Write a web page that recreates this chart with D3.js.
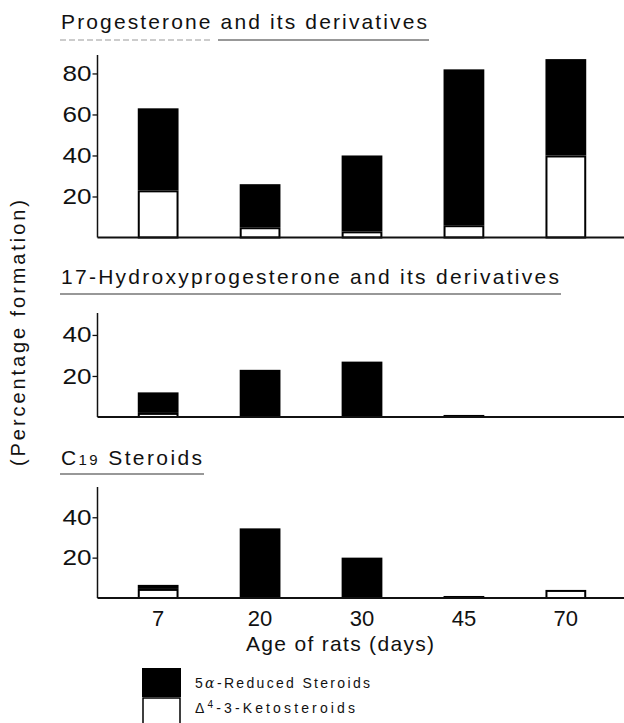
<!DOCTYPE html>
<html>
<head>
<meta charset="utf-8">
<script src="https://cdn.jsdelivr.net/npm/d3@7"></script>
<style>
  html, body { margin: 0; padding: 0; background: #fff; }
  svg { display: block; }
  text { font-family: "Liberation Sans", Arial, sans-serif; fill: #111; }
</style>
</head>
<body>
<svg id="chart" width="624" height="723"></svg>
<script>
// ---- data ----
const ages = ["7", "20", "30", "45", "70"];
const panelTitles = ["Progesterone and its derivatives", "17-Hydroxyprogesterone and its derivatives", "C19 Steroids"];
// 5α-reduced steroids (black part of each bar)
const reducedProg = [40, 21, 37, 76, 47];
const reducedHydroxy = [10, 23, 27, 1, 0];
const reducedC19 = [2, 34.5, 20, 1, 0];
// Δ4-3-ketosteroids (white part of each bar)
const ketoProg = [23, 5, 3, 6, 40];
const ketoHydroxy = [2, 0, 0, 0, 0];
const ketoC19 = [4.5, 0, 0, 0, 4];
const ticksProg = [20, 40, 60, 80];
const ticksSmall = [20, 40];
const legendLabels = ["5α-Reduced Steroids", "Δ4-3-Ketosteroids"];
const xTitle = "Age of rats (days)";
const yTitle = "(Percentage formation)";

// ---- layout ----
const svg = d3.select("#chart");
const axisX = 97.5;
const x = d3.scaleBand().domain(ages).range([97, 627]).paddingInner(0.6).paddingOuter(0.4);

const panels = [
  { title: panelTitles[0], reduced: reducedProg, keto: ketoProg, ticks: ticksProg,
    base: 237.5, top: 55, max: 89, titleY: 29, titleW: 366, underY: 40 },
  { title: panelTitles[1], reduced: reducedHydroxy, keto: ketoHydroxy, ticks: ticksSmall,
    base: 417, top: 313, max: 50.7, titleY: 284, titleW: 498, underY: 294 },
  { title: panelTitles[2], reduced: reducedC19, keto: ketoC19, ticks: ticksSmall,
    base: 598, top: 487, max: 55, titleY: 465, titleW: 141, underY: 474 }
];

panels.forEach((p, pi) => {
  const y = d3.scaleLinear().domain([0, p.max]).range([p.base, p.top]);
  const g = svg.append("g");

  // title
  const t = g.append("text").attr("x", 61).attr("y", p.titleY)
    .attr("font-size", 21).attr("textLength", p.titleW).attr("lengthAdjust", "spacing");
  if (pi === 2) {
    t.append("tspan").text("C");
    t.append("tspan").attr("font-size", 15).text("19");
    t.append("tspan").text(" Steroids");
  } else {
    t.text(p.title);
  }
  if (pi === 0) {
    g.append("line").attr("x1", 60).attr("x2", 212).attr("y1", p.underY).attr("y2", p.underY)
      .attr("stroke", "#999").attr("stroke-width", 1).attr("stroke-dasharray", "6,3");
    g.append("line").attr("x1", 218).attr("x2", 429).attr("y1", p.underY).attr("y2", p.underY)
      .attr("stroke", "#333").attr("stroke-width", 1.2);
  } else {
    g.append("line").attr("x1", 60).attr("x2", 61 + p.titleW + 2).attr("y1", p.underY).attr("y2", p.underY)
      .attr("stroke", "#333").attr("stroke-width", 1.2);
  }

  // y axis
  const ya = g.append("g").attr("transform", `translate(${axisX},0)`)
    .call(d3.axisLeft(y).tickValues(p.ticks).tickSize(5).tickSizeOuter(0).tickPadding(1));
  ya.select(".domain").remove();
  ya.selectAll(".tick line").attr("stroke", "#111").attr("stroke-width", 1.3);
  ya.selectAll(".tick text").attr("font-size", 22).attr("font-family", "Liberation Sans, Arial, sans-serif")
    .attr("fill", "#111").attr("textLength", 29).attr("lengthAdjust", "spacingAndGlyphs");
  g.append("line").attr("x1", axisX).attr("x2", axisX).attr("y1", p.top).attr("y2", p.base)
    .attr("stroke", "#111").attr("stroke-width", 1.5);

  // bars
  const stackData = ages.map((a, i) => ({ age: a, keto: p.keto[i], reduced: p.reduced[i] }));
  const series = d3.stack().keys(["keto", "reduced"])(stackData);
  const bw = x.bandwidth();
  // black (reduced) parts
  g.append("g").selectAll("rect").data(series[1].filter(d => d[1] - d[0] > 0)).join("rect")
    .attr("x", d => x(d.data.age)).attr("width", bw)
    .attr("y", d => y(d[1])).attr("height", d => y(d[0]) - y(d[1]))
    .attr("fill", "#000");
  // white (keto) parts
  g.append("g").selectAll("rect").data(series[0].filter(d => d[1] - d[0] > 0)).join("rect")
    .attr("x", d => x(d.data.age) + 1).attr("width", bw - 2)
    .attr("y", d => y(d[1]) + 1).attr("height", d => Math.max(0, y(d[0]) - y(d[1]) - 1))
    .attr("fill", "#fff").attr("stroke", "#000").attr("stroke-width", 2);

  // x axis line
  g.append("line").attr("x1", axisX).attr("x2", 624).attr("y1", p.base).attr("y2", p.base)
    .attr("stroke", "#111").attr("stroke-width", 1.8);

  if (pi === 2) {
    const xa = g.append("g").attr("transform", `translate(0,${p.base})`)
      .call(d3.axisBottom(x).tickSize(0).tickPadding(12));
    xa.select(".domain").remove();
    xa.selectAll(".tick text").attr("font-size", 22).attr("font-family", "Liberation Sans, Arial, sans-serif")
      .attr("fill", "#111");
  }
});

// x title
svg.append("text").attr("x", 340).attr("y", 651).attr("text-anchor", "middle")
  .attr("font-size", 21).attr("textLength", 188).attr("lengthAdjust", "spacing").text(xTitle);

// y title
svg.append("text").attr("transform", "translate(25,333) rotate(-90)").attr("text-anchor", "middle")
  .attr("font-size", 20).attr("textLength", 266).attr("lengthAdjust", "spacing").text(yTitle);

// legend
const legendColors = ["#000", "#fff"];
const lg = svg.append("g");
lg.selectAll("rect").data(legendLabels).join("rect")
  .attr("x", (d, i) => i === 0 ? 142 : 143).attr("y", (d, i) => i === 0 ? 668 : 698)
  .attr("width", (d, i) => i === 0 ? 39 : 37).attr("height", (d, i) => i === 0 ? 29 : 30)
  .attr("fill", (d, i) => legendColors[i]).attr("stroke", "#000").attr("stroke-width", (d, i) => i === 0 ? 0 : 1.5);
const lt = lg.selectAll("text").data(legendLabels).join("text")
  .attr("x", 195).attr("y", (d, i) => i === 0 ? 688 : 713).attr("font-size", 14);
lt.each(function(d, i) {
  const s = d3.select(this);
  if (i === 0) {
    s.attr("textLength", 175).attr("lengthAdjust", "spacing");
    s.append("tspan").text("5");
    s.append("tspan").attr("font-style", "italic").attr("font-family", "DejaVu Serif, serif").text("α");
    s.append("tspan").text("-Reduced Steroids");
  } else {
    s.attr("textLength", 160).attr("lengthAdjust", "spacing");
    s.append("tspan").text("Δ");
    s.append("tspan").attr("font-size", 10).attr("dy", -5).text("4");
    s.append("tspan").attr("dy", 5).text("-3-Ketosteroids");
  }
});
</script>
</body>
</html>
